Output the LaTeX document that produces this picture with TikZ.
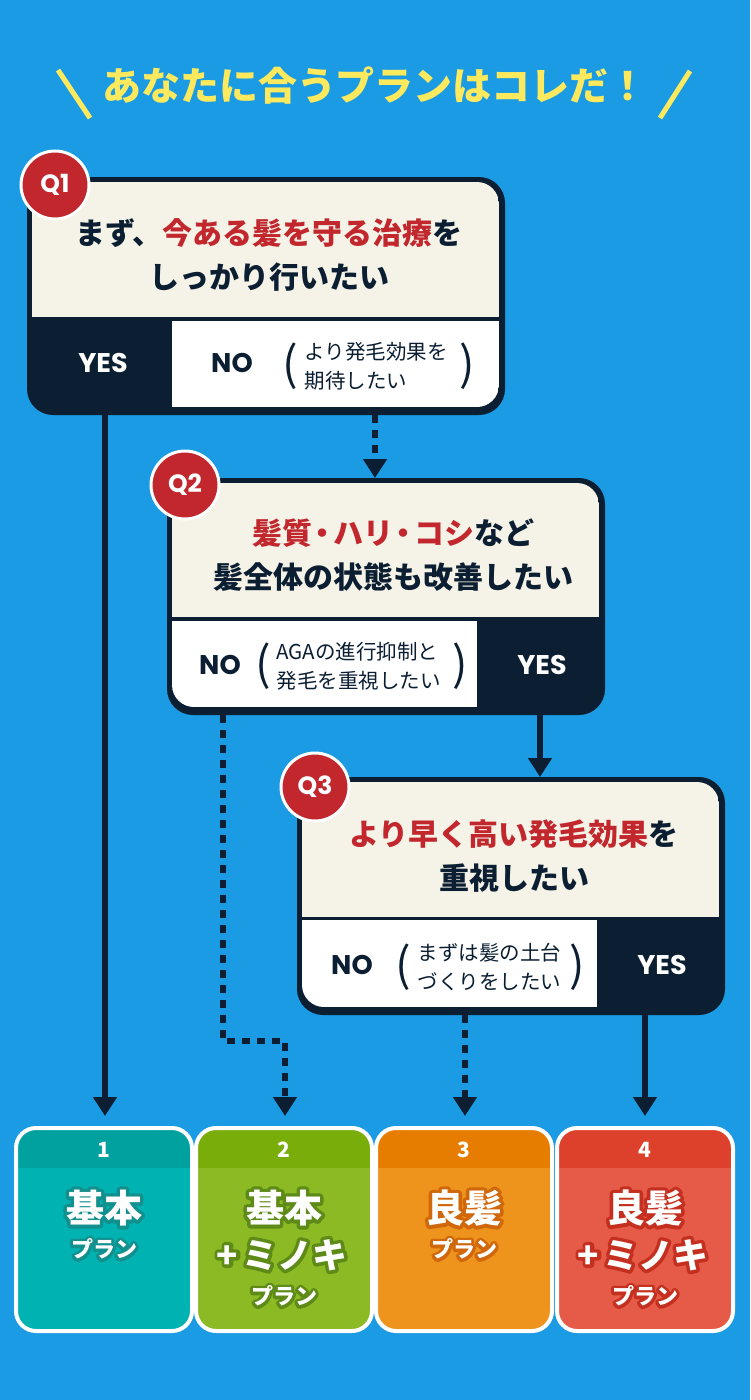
\documentclass[tikz,border=0pt]{standalone}
\usepackage{fontspec}
\newfontfamily\jp{Noto Sans CJK JP}
\newfontfamily\pop{Poppins}
\usetikzlibrary{arrows.meta,calc}
\definecolor{bg}{HTML}{1A9BE3}
\definecolor{navy}{HTML}{0B1E32}
\definecolor{cream}{HTML}{F5F3E7}
\definecolor{qred}{HTML}{C1272D}
\definecolor{ttl}{HTML}{FCE95E}
\definecolor{c1h}{HTML}{00A19F}
\definecolor{c1b}{HTML}{00B2B2}
\definecolor{c1o}{HTML}{11908E}
\definecolor{c2h}{HTML}{79AD0A}
\definecolor{c2b}{HTML}{8BBA25}
\definecolor{c2o}{HTML}{5E8A17}
\definecolor{c3h}{HTML}{E67C00}
\definecolor{c3b}{HTML}{EE931C}
\definecolor{c3o}{HTML}{D0680B}
\definecolor{c4h}{HTML}{DD412B}
\definecolor{c4b}{HTML}{E55B47}
\definecolor{c4o}{HTML}{C42F1F}
\tikzset{
  qtext/.style={align=center, text=navy, font=\jp\bfseries\fontsize{30}{44}\selectfont},
  yeslbl/.style={text=white, font=\pop\bfseries\fontsize{27}{27}\selectfont},
  nolbl/.style={text=navy, font=\pop\bfseries\fontsize{27}{27}\selectfont},
  subtxt/.style={anchor=west, align=left, text=navy, font=\jp\fontsize{20.5}{29}\selectfont},
  paren/.style={text=navy, font=\jp\fontsize{46}{46}\selectfont, inner sep=0pt},
  badge/.style={circle, fill=qred, draw=white, line width=3pt, minimum size=68pt, inner sep=0pt, text=white, font=\pop\bfseries\fontsize{25}{25}\selectfont},
  solidln/.style={navy, line width=5.5pt, -{Triangle[width=23pt,length=19pt]}},
  dotln/.style={navy, line width=5.5pt, dash pattern=on 8pt off 7pt, -{Triangle[width=23pt,length=19pt]}},
  card/.style={draw=white, line width=4pt, rounded corners=20pt, minimum width=176pt, minimum height=203pt, inner sep=0pt},
  hdr/.style={path picture={\fill[#1, sharp corners] ([yshift=3pt]path picture bounding box.north west) rectangle ([yshift=-40pt]path picture bounding box.north east);}},
  numlbl/.style={text=white, font=\jp\bfseries\fontsize{21}{21}\selectfont},
}
% outlined white text: stroked copy (text render mode 1) under a filled copy
\newcommand\otext[6]{%
  \node[font=#4] (#1) at #2 {\rlap{\special{pdf:literal direct q #6 w 1 j 1 J 1 Tr}\color{#3}#5\special{pdf:literal direct 0 Tr Q}}\color{white}#5};}
\newcommand\bigjp{\jp\bfseries\fontsize{38}{38}\selectfont}
\newcommand\midjp{\jp\bfseries\fontsize{35}{35}\selectfont}
\newcommand\smljp{\jp\bfseries\fontsize{22}{22}\selectfont}
\newcommand\tdot{\kern-4.5pt・\kern-4.5pt}
\begin{document}
\begin{tikzpicture}[x=1pt,y=-1pt]
\useasboundingbox (0,0) rectangle (750,1400);
\fill[bg] (0,0) rectangle (750,1400);

% title
\draw[ttl, line width=5pt] (58,70) -- (90,118);
\draw[ttl, line width=5pt] (690,71) -- (660,118);
\node[text=ttl, font=\jp\bfseries\fontsize{39}{39}\selectfont] (title) at (375,86) {あなたに合うプランはコレだ！};

% ---------- Q1 ----------
\fill[navy, rounded corners=26pt] (27,177) rectangle (505,415);
\begin{scope}
  \clip[rounded corners=22pt] (32,182) rectangle (499,407);
  \fill[cream] (32,182) rectangle (499,317);
  \fill[white] (172,321) rectangle (499,407);
\end{scope}
\node[qtext] (q1t) at (269,255) {まず、{\color{qred}今ある髪を守る治療}を\\しっかり行いたい};
\node[yeslbl] (q1y) at (103,363) {YES};
\node[nolbl] (q1n) at (232,363) {NO};
\node[paren] (q1l) at (290,366) {(};
\node[paren] (q1r) at (467,366) {)};
\node[subtxt] (q1s) at (301,366) {より発毛効果を\\期待したい};
\node[badge] (b1) at (55,185) {Q1};

% ---------- Q2 ----------
\fill[navy, rounded corners=26pt] (167,478) rectangle (605,715);
\begin{scope}
  \clip[rounded corners=22pt] (172,483) rectangle (599,707);
  \fill[cream] (172,483) rectangle (599,617);
  \fill[white] (172,621) rectangle (477,707);
\end{scope}
\node[qtext] (q2t) at (393,555) {{\color{qred}髪質\tdot ハリ\tdot コシ}など\\髪全体の状態も改善したい};
\node[nolbl] (q2n) at (220,665) {NO};
\node[yeslbl] (q2y) at (542,665) {YES};
\node[paren] (q2l) at (263,666) {(};
\node[paren] (q2r) at (460,666) {)};
\node[subtxt] (q2s) at (273,666) {AGAの進行抑制と\\発毛を重視したい};
\node[badge] (b2) at (185,485) {Q2};

% ---------- Q3 ----------
\fill[navy, rounded corners=26pt] (297,777) rectangle (725,1015);
\begin{scope}
  \clip[rounded corners=22pt] (302,782) rectangle (719,1007);
  \fill[cream] (302,782) rectangle (719,917);
  \fill[white] (302,920) rectangle (597,1007);
\end{scope}
\node[qtext] (q3t) at (514,856) {{\color{qred}より早く高い発毛効果}を\\重視したい};
\node[nolbl] (q3n) at (352,965) {NO};
\node[yeslbl] (q3y) at (662,965) {YES};
\node[paren] (q3l) at (403,967) {(};
\node[paren] (q3r) at (577,967) {)};
\node[subtxt] (q3s) at (414,967) {まずは髪の土台\\づくりをしたい};
\node[badge] (b3) at (315,787) {Q3};

% ---------- cards ----------
\node[card, fill=c1b, hdr=c1h] (card1) at (104,1229.5) {};
\node[card, fill=c2b, hdr=c2h] (card2) at (284,1229.5) {};
\node[card, fill=c3b, hdr=c3h] (card3) at (464,1229.5) {};
\node[card, fill=c4b, hdr=c4h] (card4) at (645,1229.5) {};
\node[numlbl] (n1) at (104,1150) {1};
\node[numlbl] (n2) at (284,1150) {2};
\node[numlbl] (n3) at (464,1150) {3};
\node[numlbl] (n4) at (645,1150) {4};

\otext{p1a}{(104,1208)}{c1o}{\bigjp}{基本}{7}
\otext{p1b}{(104,1249)}{c1o}{\smljp}{プラン}{6}
\otext{p2a}{(284,1208)}{c2o}{\bigjp}{基本}{7}
\otext{p2b}{(282,1255)}{c2o}{\midjp}{+\kern4pt ミノキ}{7}
\otext{p2c}{(284,1296)}{c2o}{\smljp}{プラン}{6}
\otext{p3a}{(464,1208)}{c3o}{\bigjp}{良髪}{7}
\otext{p3b}{(464,1249)}{c3o}{\smljp}{プラン}{6}
\otext{p4a}{(645,1208)}{c4o}{\bigjp}{良髪}{7}
\otext{p4b}{(643,1255)}{c4o}{\midjp}{+\kern4pt ミノキ}{7}
\otext{p4c}{(645,1296)}{c4o}{\smljp}{プラン}{6}

% ---------- connectors ----------
\coordinate (q1yes) at (105,415);
\coordinate (q1no) at (375,415);
\coordinate (q2top) at (375,478);
\coordinate (q2no) at (223,715);
\coordinate (q2yes) at (540,715);
\coordinate (q3top) at (540,777);
\coordinate (bend) at (285,1041);
\coordinate (q3no) at (465,1015);
\coordinate (q3yes) at (645,1015);

\draw[solidln, shorten >=10pt] (q1yes) -- (q1yes |- card1.north);
\draw[dotln] (q1no) -- (q2top);
\draw[solidln] (q2yes) -- (q3top);
\draw[dotln, shorten >=10pt] (q2no) |- (bend) -- (bend |- card2.north);
\draw[dotln, shorten >=10pt] (q3no) -- (q3no |- card3.north);
\draw[solidln, shorten >=10pt] (q3yes) -- (q3yes |- card4.north);
\end{tikzpicture}
\end{document}
